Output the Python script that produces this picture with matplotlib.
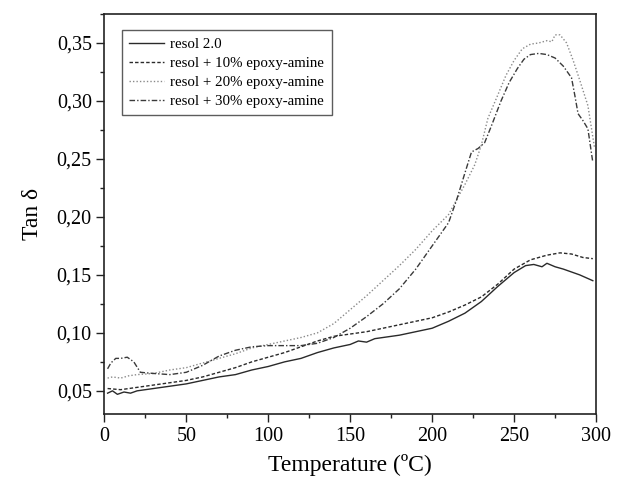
import matplotlib
matplotlib.use("Agg")
import matplotlib.pyplot as plt
from matplotlib.ticker import MultipleLocator, FuncFormatter

# ---- data ----
t_resol = [2, 5, 8, 12, 16, 20, 30, 40, 50, 60, 70, 80, 90, 100, 110, 120, 130, 140, 150,
           155, 160, 165, 170, 180, 190, 200, 210, 220, 230, 240, 250, 257, 262, 267, 270,
           275, 280, 290, 298]
v_resol = [0.048, 0.050, 0.047, 0.049, 0.048, 0.050, 0.052, 0.054, 0.056, 0.059, 0.062,
           0.064, 0.068, 0.071, 0.075, 0.078, 0.083, 0.087, 0.090, 0.093, 0.092, 0.095,
           0.096, 0.098, 0.101, 0.104, 0.110, 0.117, 0.127, 0.140, 0.152, 0.158, 0.159,
           0.157, 0.160, 0.157, 0.155, 0.150, 0.145]

t_10 = [2, 10, 20, 30, 40, 50, 60, 70, 80, 90, 100, 110, 120, 130, 140, 150, 160, 170,
        180, 190, 200, 210, 220, 230, 240, 250, 260, 270, 278, 285, 292, 298]
v_10 = [0.052, 0.051, 0.053, 0.055, 0.057, 0.059, 0.062, 0.066, 0.070, 0.075, 0.079,
        0.083, 0.088, 0.093, 0.097, 0.099, 0.101, 0.104, 0.107, 0.110, 0.113, 0.118,
        0.124, 0.131, 0.142, 0.155, 0.163, 0.167, 0.169, 0.168, 0.165, 0.164]

t_20 = [2, 5, 10, 15, 20, 30, 40, 50, 60, 70, 80, 90, 100, 110, 120, 130, 140, 150, 160,
        170, 180, 190, 200, 210, 220, 226, 230, 234, 240, 245, 250, 255, 260, 265, 270,
        273, 275, 278, 282, 286, 290, 295, 299]
v_20 = [0.061, 0.062, 0.061, 0.063, 0.064, 0.065, 0.068, 0.070, 0.074, 0.078, 0.082,
        0.087, 0.090, 0.093, 0.096, 0.100, 0.108, 0.120, 0.132, 0.145, 0.158, 0.172,
        0.188, 0.202, 0.228, 0.245, 0.262, 0.285, 0.305, 0.322, 0.335, 0.345, 0.349,
        0.350, 0.352, 0.351, 0.357, 0.357, 0.350, 0.335, 0.318, 0.296, 0.260]

t_30 = [2, 4, 7, 10, 14, 18, 22, 30, 40, 50, 60, 70, 80, 90, 100, 110, 120, 130, 140, 150,
        160, 170, 180, 190, 200, 210, 215, 220, 224, 228, 232, 236, 242, 247, 252, 256,
        260, 265, 270, 275, 280, 285, 287, 289, 292, 295, 298]
v_30 = [0.069, 0.074, 0.078, 0.078, 0.079, 0.075, 0.066, 0.065, 0.064, 0.066, 0.072,
        0.080, 0.085, 0.088, 0.089, 0.089, 0.089, 0.091, 0.096, 0.104, 0.114, 0.125,
        0.138, 0.155, 0.175, 0.195, 0.215, 0.238, 0.256, 0.259, 0.264, 0.278, 0.300,
        0.316, 0.328, 0.336, 0.340, 0.341, 0.340, 0.337, 0.330, 0.320, 0.305, 0.289,
        0.283, 0.276, 0.247]

labels = ["resol 2.0", "resol + 10% epoxy-amine", "resol + 20% epoxy-amine",
          "resol + 30% epoxy-amine"]

plt.rcParams['font.family'] = ['Liberation Serif', 'DejaVu Serif']

fig = plt.figure(figsize=(6.19, 4.82), dpi=100)
ax = fig.add_axes([0.1685, 0.141, 0.7945, 0.830])

ax.plot(t_resol, v_resol, color='#2a2a2a', lw=1.0, ls='-', label=labels[0])
ax.plot(t_10, v_10, color='#2a2a2a', lw=1.0, ls=(0, (2.5, 1.5)), label=labels[1])
ax.plot(t_20, v_20, color='#8a8a8a', lw=1.0, ls=(0, (1, 1.5)), label=labels[2])
ax.plot(t_30, v_30, color='#3a3a3a', lw=1.0, ls=(0, (4, 1.5, 1, 1.5)), label=labels[3])

ax.set_xlim(0, 300)
ax.set_ylim(0.03, 0.375)
ax.xaxis.set_major_locator(MultipleLocator(50))
ax.xaxis.set_minor_locator(MultipleLocator(25))
ax.yaxis.set_major_locator(MultipleLocator(0.05))
ax.yaxis.set_minor_locator(MultipleLocator(0.025))
ax.yaxis.set_major_formatter(FuncFormatter(lambda v, p: f"{v:.2f}".replace('.', ',')))

ax.tick_params(which='both', direction='out', top=False, right=False, labelsize=14.5,
               width=1.0, color='#222222')
ax.tick_params(which='major', length=5.5)
ax.tick_params(which='minor', length=3)
for s in ax.spines.values():
    s.set_linewidth(1.2)
    s.set_color('#222222')

ax.set_xlabel("Temperature (\u00baC)", fontsize=17, labelpad=6)
ax.set_ylabel("Tan \u03b4", fontsize=17, labelpad=10)

leg = ax.legend(loc='upper left', bbox_to_anchor=(0.036, 0.96), borderaxespad=0,
                fontsize=10.7, frameon=True, fancybox=False, edgecolor='#333333',
                handlelength=2.3, borderpad=0.5, labelspacing=0.38, handletextpad=0.45)
leg.get_frame().set_linewidth(1.0)

fig.savefig("out.png", dpi=100)
